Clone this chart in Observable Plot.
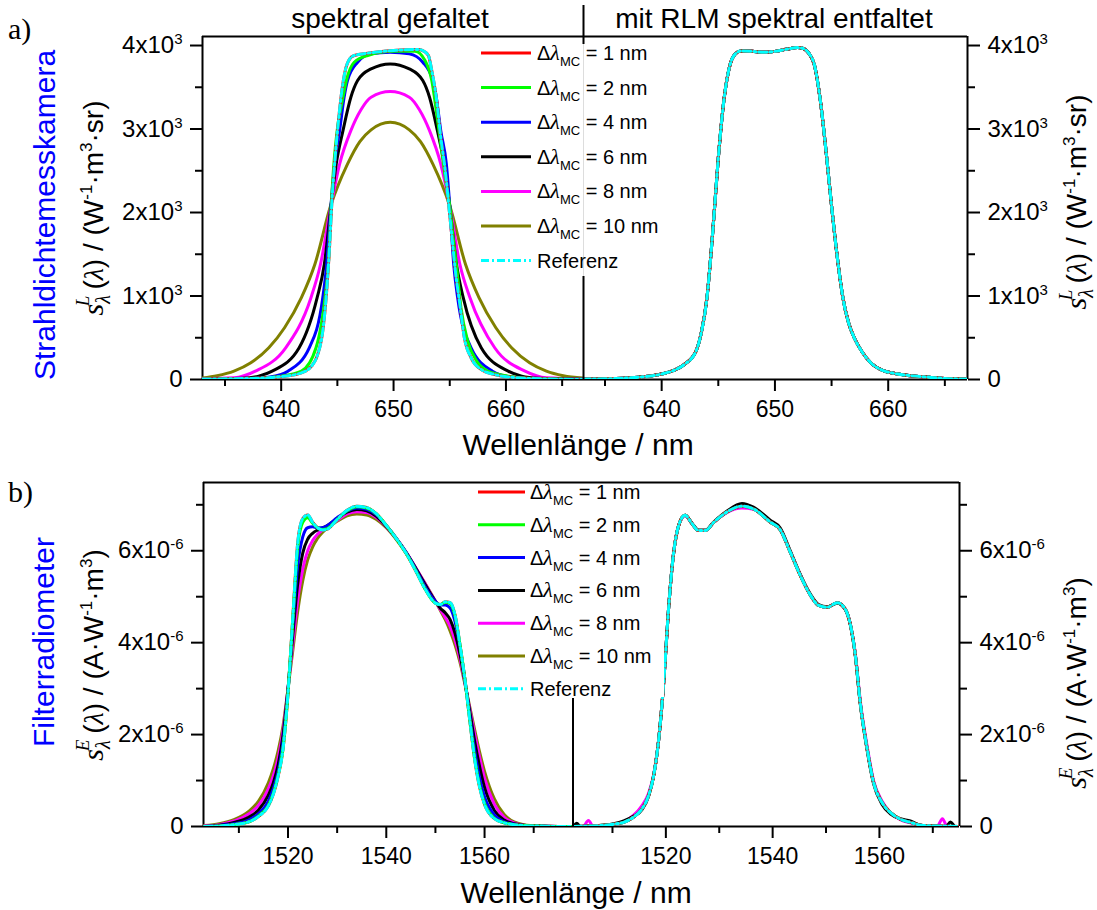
<!DOCTYPE html>
<html><head><meta charset="utf-8">
<script src="https://cdn.jsdelivr.net/npm/d3@7"></script>
<script src="https://cdn.jsdelivr.net/npm/@observablehq/plot@0.6"></script>
<style>
body{margin:0;background:#fff;}
#wrap{position:relative;width:1097px;height:910px;overflow:hidden;background:#fff;}
#wrap svg{position:absolute;}
</style></head><body><div id="wrap"></div>
<script>
// ---------------- data ----------------
const mcLabels = ["1 nm","2 nm","4 nm","6 nm","8 nm","10 nm"];
const refLabel = "Referenz";
const colors = ["#ff0000","#00ff00","#0000ff","#000000","#ff00ff","#808000"];
const refColor = "#00ffff";
const panelTitles = ["spektral gefaltet","mit RLM spektral entfaltet"];
const xTitle = "Wellenlänge / nm";
const yTitlesBlue = ["Strahldichtemesskamera","Filterradiometer"];

const aTicksX = [640,650,660], aMinorX = [635,645,655,665];
const bTicksX = [1520,1540,1560], bMinorX = [1510,1530,1550,1570];
const aTicksY = [0,1000,2000,3000,4000], aMinorY = [500,1500,2500,3500];
const bTicksY = [0,2e-6,4e-6,6e-6], bMinorY = [1e-6,3e-6,5e-6,7e-6];

// panel a, spectrally convolved  [wavelength nm, value]
const convA_ref = [[633,5],[635.8,10],[638.8,20],[640.3,40],[641.8,80],[642.7,160],[643.2,280],[643.7,580],[644.0,980],[644.3,1580],[644.5,2100],[644.8,2660],[645.1,3100],[645.4,3460],[645.7,3700],[646.1,3840],[646.5,3880],[647.7,3908],[650.0,3940],[652.2,3952],[652.6,3940],[653.1,3880],[653.4,3700],[653.8,3380],[654.2,2900],[654.6,2500],[654.9,2100],[655.2,1700],[655.5,1300],[655.9,900],[656.3,500],[656.9,260],[657.8,120],[659.0,60],[661.1,20],[664,5],[667,0]];
const convA_1 = [[633,5],[635.8,10],[638.8,20],[640.3,40],[641.8,80],[642.7,160],[643.2,280],[643.7,580],[644.0,980],[644.3,1580],[644.5,2100],[644.8,2660],[645.1,3100],[645.4,3460],[645.7,3700],[646.1,3840],[646.5,3880],[647.7,3908],[650.0,3940],[652.2,3952],[652.6,3940],[653.1,3880],[653.4,3700],[653.8,3380],[654.2,2900],[654.6,2500],[654.9,2100],[655.2,1700],[655.5,1300],[655.9,900],[656.3,500],[656.9,260],[657.8,120],[659.0,60],[661.1,20],[664,5],[667,0]];
const convA_2 = [[633,2],[637,8],[640,40],[641.8,100],[643.1,380],[643.9,980],[644.2,1380],[644.45,2080],[644.7,2600],[645.0,3000],[645.5,3380],[645.8,3580],[646.5,3800],[647.7,3880],[650.0,3930],[651.9,3930],[652.8,3820],[653.4,3580],[653.8,3220],[654.2,2820],[654.6,2420],[655.0,2080],[655.3,1700],[655.65,1300],[656.0,860],[656.6,460],[657.4,220],[658.4,100],[660.2,40],[662.6,12],[667,2]];
const convA_4 = [[633,2],[637,8],[639,30],[640.6,100],[642.5,380],[643.7,980],[644.05,1380],[644.43,2080],[644.75,2580],[645.2,2980],[645.6,3380],[645.9,3580],[646.8,3800],[648.0,3900],[649.7,3920],[651.4,3900],[652.6,3800],[653.5,3580],[653.8,3380],[654.2,2980],[654.7,2580],[655.0,2080],[655.35,1380],[655.7,980],[656.9,380],[658.8,100],[660.4,30],[662.4,8],[667,2]];
const convA_6 = [[633,3],[636.5,15],[638,40],[639.2,100],[641.6,380],[643.2,980],[643.84,1380],[644.43,2080],[644.9,2580],[645.5,2980],[646.2,3380],[646.8,3580],[648.0,3720],[649.7,3780],[651.4,3720],[652.6,3580],[653.2,3380],[653.9,2980],[654.5,2580],[655.0,2080],[655.6,1380],[656.2,980],[657.8,380],[660.2,100],[661.4,40],[662.9,15],[667,2]];
const convA_8 = [[633,8],[635.8,20],[637.7,100],[640.4,380],[642.65,980],[643.5,1380],[644.43,2080],[645.2,2580],[646.2,2980],[647.1,3230],[648.0,3380],[649.7,3448],[651.4,3380],[652.3,3230],[653.2,2980],[654.2,2580],[655.0,2080],[655.9,1380],[656.8,980],[659.0,380],[661.7,100],[663.6,20],[667,6]];
const convA_10 = [[633,18],[634.3,45],[635.8,100],[637.3,200],[638.9,380],[640.3,620],[641.8,980],[643.0,1380],[644.4,2080],[645.9,2580],[647.0,2850],[648.0,2990],[649.7,3080],[651.4,2990],[652.4,2850],[653.5,2580],[655.0,2080],[656.4,1380],[657.6,980],[659.1,620],[660.5,380],[662.1,200],[663.6,100],[665.1,45],[667,15]];
// panel a, deconvolved with RLM (all curves coincide)
const decA = [[633,4],[636,12],[638,28],[640,65],[641,105],[642,180],[643,330],[643.5,560],[644,980],[644.5,1750],[645,2650],[645.5,3350],[646,3750],[646.5,3900],[647,3935],[648,3930],[649,3918],[650,3930],[651,3955],[652,3975],[652.5,3965],[653,3905],[653.5,3760],[654,3350],[654.5,2750],[655,2080],[655.5,1470],[656,980],[656.5,680],[657,500],[657.7,330],[658.5,195],[659.5,110],[660.6,72],[662,45],[663.6,28],[665,12],[667,5]];

// panel b, convolved (values in 1e-6 A·W^-1·m^3)
const lamB = [1503,1506,1509,1512,1514,1516,1517,1518,1519,1520,1521,1522,1523,1524,1525,1526,1527,1528,1530,1532,1534,1536,1538,1540,1542,1544,1546,1548,1550,1551,1552,1553,1554,1555,1556,1557,1558,1559,1560,1562,1564,1566,1568,1571,1575,1578];
const convB_ref = [0,0.01,0.04,0.1,0.22,0.45,0.7,1.1,1.7,2.9,4.6,6.2,6.7,6.78,6.62,6.5,6.45,6.47,6.68,6.88,6.97,6.94,6.8,6.55,6.27,5.95,5.56,5.15,4.86,4.83,4.89,4.87,4.6,3.95,3.2,2.3,1.45,0.85,0.48,0.17,0.08,0.04,0.02,0.01,0,0];
const convB_1 = [0,0.01,0.04,0.1,0.22,0.45,0.7,1.1,1.7,2.9,4.6,6.2,6.7,6.78,6.62,6.5,6.45,6.47,6.68,6.88,6.97,6.94,6.8,6.55,6.27,5.95,5.56,5.15,4.86,4.83,4.89,4.87,4.6,3.95,3.2,2.3,1.45,0.85,0.48,0.17,0.08,0.04,0.02,0.01,0,0];
const convB_2 = [0,0.01,0.04,0.1,0.23,0.46,0.72,1.12,1.72,2.9,4.55,6.1,6.62,6.72,6.6,6.5,6.46,6.48,6.68,6.87,6.96,6.93,6.8,6.55,6.27,5.95,5.57,5.15,4.86,4.83,4.88,4.85,4.58,3.95,3.2,2.32,1.48,0.88,0.5,0.18,0.08,0.04,0.02,0.01,0,0];
const convB_4 = [0,0.02,0.06,0.14,0.28,0.55,0.82,1.2,1.85,2.95,4.4,5.7,6.3,6.5,6.52,6.5,6.5,6.55,6.72,6.86,6.93,6.9,6.78,6.55,6.28,5.97,5.6,5.2,4.9,4.82,4.82,4.75,4.45,3.9,3.2,2.4,1.65,1.05,0.65,0.25,0.1,0.05,0.02,0.01,0,0];
const convB_6 = [0,0.03,0.09,0.2,0.36,0.68,0.95,1.35,2.0,3.0,4.2,5.3,5.95,6.25,6.38,6.45,6.5,6.55,6.7,6.84,6.9,6.87,6.75,6.53,6.27,5.97,5.62,5.25,4.9,4.75,4.65,4.5,4.2,3.75,3.15,2.5,1.85,1.3,0.85,0.35,0.14,0.06,0.03,0.01,0,0];
const convB_8 = [0.01,0.04,0.12,0.27,0.46,0.82,1.1,1.5,2.1,3.0,4.0,4.95,5.6,6.0,6.22,6.36,6.45,6.52,6.66,6.8,6.85,6.83,6.72,6.52,6.27,5.97,5.63,5.27,4.9,4.72,4.55,4.35,4.05,3.65,3.12,2.55,2.0,1.5,1.05,0.48,0.2,0.08,0.03,0.01,0,0];
const convB_10 = [0.02,0.06,0.15,0.33,0.55,0.95,1.25,1.65,2.2,3.0,3.85,4.7,5.35,5.8,6.08,6.27,6.4,6.5,6.64,6.76,6.8,6.78,6.68,6.5,6.25,5.95,5.62,5.27,4.9,4.7,4.5,4.25,3.95,3.57,3.1,2.6,2.1,1.62,1.2,0.6,0.26,0.1,0.04,0.01,0,0];
// panel b, deconvolved
const decB = [[1502.7,0],[1505.8,0.01],[1510.2,0.05],[1512.1,0.09],[1513.9,0.2],[1515.5,0.38],[1516.75,0.67],[1517.7,1.1],[1518.6,1.83],[1519.6,3.14],[1520.5,4.73],[1521.4,5.9],[1522.4,6.55],[1523.6,6.77],[1524.9,6.59],[1526.1,6.44],[1527.4,6.44],[1528.9,6.61],[1531.4,6.84],[1534.25,6.97],[1536.4,6.91],[1539.6,6.62],[1541.4,6.46],[1543.3,5.97],[1545.2,5.46],[1547.1,5.03],[1548.6,4.81],[1550.2,4.77],[1552.1,4.87],[1553.6,4.73],[1554.6,4.37],[1555.5,3.72],[1556.4,2.7],[1557.7,1.69],[1558.9,0.96],[1560.5,0.52],[1562.1,0.3],[1563.9,0.16],[1565.8,0.09],[1567.7,0.03],[1570.8,0.01],[1575,0]];
const decB_6 = [[1502.7,0],[1503.3,0.07],[1504,0],[1506,0.01],[1510.2,0.06],[1512.1,0.12],[1513.9,0.22],[1515.5,0.36],[1516.75,0.65],[1517.7,1.1],[1518.6,1.83],[1519.6,3.14],[1520.5,4.73],[1521.4,5.9],[1522.4,6.55],[1523.6,6.77],[1524.9,6.6],[1526.1,6.45],[1527.4,6.45],[1528.9,6.62],[1531.4,6.86],[1534.25,7.03],[1536.4,6.95],[1539.6,6.66],[1541.4,6.5],[1543.3,6.0],[1545.2,5.48],[1547.1,5.05],[1548.6,4.83],[1550.2,4.78],[1552.1,4.86],[1553.6,4.72],[1554.6,4.36],[1555.5,3.7],[1556.4,2.68],[1557.7,1.66],[1558.9,0.93],[1560.5,0.48],[1562.1,0.27],[1563.9,0.17],[1565.8,0.12],[1567.7,0.03],[1570.8,0.01],[1572.5,0],[1573.3,0.1],[1574.2,0],[1575,0]];
const decB_8 = [[1502.7,0],[1504.5,0],[1505.5,0.13],[1506.4,0],[1510.2,0.05],[1512.1,0.1],[1513.9,0.24],[1515.5,0.45],[1516.75,0.72],[1517.7,1.12],[1518.6,1.83],[1519.6,3.14],[1520.5,4.73],[1521.4,5.9],[1522.4,6.55],[1523.6,6.76],[1524.9,6.59],[1526.1,6.44],[1527.4,6.44],[1528.9,6.61],[1531.4,6.83],[1534.25,6.93],[1536.4,6.9],[1539.6,6.63],[1541.4,6.47],[1543.3,5.98],[1545.2,5.47],[1547.1,5.03],[1548.6,4.81],[1550.2,4.77],[1552.1,4.87],[1553.6,4.73],[1554.6,4.38],[1555.5,3.75],[1556.4,2.75],[1557.7,1.75],[1558.9,1.0],[1560.5,0.55],[1562.1,0.3],[1563.9,0.15],[1565.8,0.08],[1567.7,0.03],[1570.8,0],[1571.8,0.17],[1572.7,0],[1575,0]];

// ---------------- drawing ----------------
const FONT = "'Liberation Sans', Arial, Helvetica, sans-serif";
const SERIF = "'Liberation Serif', 'Times New Roman', serif";
const wrap = document.getElementById("wrap");
const zip = (xs, ys) => xs.map((x, i) => [x, ys[i]]);
const REFDASH = "8,3,2,3";

function ser(pts, i) { return {pts, color: i < 0 ? refColor : colors[i], dash: i < 0 ? REFDASH : undefined}; }

function buildPlot(c) {
  const marks = [
    Plot.ruleY([c.yDom[1]], {stroke: "black", strokeWidth: 2}),
    Plot.ruleX([c.side === "left" ? c.xDom[0] : c.xDom[1]], {stroke: "black", strokeWidth: 2}),
    Plot.axisX(c.mX, {anchor: "bottom", tickSize: 7, tickFormat: () => "", strokeWidth: 2, label: null}),
    Plot.axisX(c.tX, {anchor: "bottom", tickSize: 12, tickPadding: 9, tickFormat: d => String(d), strokeWidth: 2, fontSize: 23, label: null}),
    Plot.axisY(c.mY, {anchor: c.side, tickSize: 7, tickFormat: () => "", strokeWidth: 2, label: null}),
    Plot.axisY(c.tY, {anchor: c.side, tickSize: 12, tickPadding: 8, tickFormat: c.fmtY, strokeWidth: 2, fontSize: 24, label: null}),
    Plot.ruleY([0], {stroke: "black", strokeWidth: 2})
  ];
  for (const s of c.series) {
    marks.push(Plot.line(s.pts, {x: d => d[0], y: d => d[1] * c.k, stroke: s.color, strokeWidth: 3,
      strokeDasharray: s.dash, curve: "monotone-x", clip: true}));
  }
  const svg = Plot.plot({
    width: c.width, height: c.height,
    marginLeft: c.mL, marginRight: c.mR, marginTop: c.mT, marginBottom: c.mB,
    x: {domain: c.xDom, label: null},
    y: {domain: c.yDom, label: null},
    style: {fontFamily: FONT, fontSize: "23px", background: "transparent", overflow: "visible", color: "black"},
    marks
  });
  d3.select(svg).selectAll('g[aria-label="y-axis tick label"] text').each(function () {
    const s = this.textContent; const i = s.indexOf("^");
    if (i < 0) return;
    const t = d3.select(this); t.text(null);
    t.append("tspan").text(s.slice(0, i));
    t.append("tspan").attr("dy", "-0.6em").attr("font-size", "15px").text(s.slice(i + 1));
  });
  svg.style.left = c.left + "px"; svg.style.top = c.top + "px";
  wrap.appendChild(svg);
}

const fmtA = d => d === 0 ? "0" : `${d / 1000}x10^3`;
const fmtB = d => d === 0 ? "0" : `${Math.round(d * 1e6)}x10^-6`;

const seriesAL = [ser(convA_10,5), ser(convA_8,4), ser(convA_6,3), ser(convA_4,2), ser(convA_2,1), ser(convA_1,0), ser(convA_ref,-1)];
const seriesAR = [ser(decA,5), ser(decA,4), ser(decA,3), ser(decA,2), ser(decA,1), ser(decA,0), ser(decA,-1)];
const seriesBL = [ser(zip(lamB,convB_10),5), ser(zip(lamB,convB_8),4), ser(zip(lamB,convB_6),3), ser(zip(lamB,convB_4),2), ser(zip(lamB,convB_1),0), ser(zip(lamB,convB_2),1), ser(zip(lamB,convB_ref),-1)];
const seriesBR = [ser(decB,5), ser(decB_8,4), ser(decB_6,3), ser(decB,2), ser(decB,1), ser(decB,0), ser(decB,-1)];

const A = {top: 0, height: 430, mT: 36, mB: 51, yDom: [0, 4108], tY: aTicksY, mY: aMinorY, fmtY: fmtA, k: 1, tX: aTicksX, mX: aMinorX};
const B = {top: 440, height: 430, mT: 42, mB: 44, yDom: [0, 7.485e-6], tY: bTicksY, mY: bMinorY, fmtY: fmtB, k: 1e-6, tX: bTicksX, mX: bMinorX};

buildPlot({...A, left: 0, width: 583, mL: 202, mR: 0, xDom: [633, 666.9], side: "left", series: seriesAL});
buildPlot({...A, left: 583, width: 514, mL: 0, mR: 130, xDom: [633.1, 667.0], side: "right", series: seriesAR});
buildPlot({...B, left: 0, width: 573, mL: 203, mR: 0, xDom: [1502.8, 1578.1], side: "left", series: seriesBL});
buildPlot({...B, left: 573, width: 524, mL: 0, mR: 138, xDom: [1502.7, 1575], side: "right", series: seriesBR});

// ---------------- overlay: titles, legends, dividers ----------------
function sTitle(x, y, sup, units) {
  let h = `<text transform="translate(${x},${y}) rotate(-90)" text-anchor="middle" font-size="28" font-family="${FONT}">`;
  h += `<tspan font-family="${SERIF}" font-style="italic" font-size="30">s</tspan>`;
  h += `<tspan font-family="${SERIF}" font-style="italic" font-size="20" dy="7">λ</tspan>`;
  h += `<tspan font-family="${SERIF}" font-style="italic" font-size="19" dx="-11" dy="-21">${sup}</tspan>`;
  h += `<tspan dx="6" dy="14">(</tspan><tspan font-family="${SERIF}" font-style="italic">λ</tspan><tspan>) / (</tspan>`;
  let raised = false;
  for (const [txt, isSup] of units) {
    if (isSup) { h += `<tspan font-size="17" dy="-11">${txt}</tspan>`; raised = true; }
    else { h += `<tspan${raised ? ' dy="11"' : ''}>${txt}</tspan>`; raised = false; }
  }
  return h + `</text>`;
}
const unitsA = [["W",0],["-1",1],["·m",0],["3",1],["·sr)",0]];
const unitsB = [["A·W",0],["-1",1],["·m",0],["3",1],[")",0]];

function legend(x1, x2, xt, y0, dy) {
  let h = "";
  const rows = mcLabels.map((l, i) => ({l, c: colors[i], dash: null})).concat([{l: null, c: refColor, dash: REFDASH}]);
  rows.forEach((r, i) => {
    const y = y0 + dy * i;
    h += `<line x1="${x1}" x2="${x2}" y1="${y}" y2="${y}" stroke="${r.c}" stroke-width="3"${r.dash ? ` stroke-dasharray="${r.dash}"` : ""}/>`;
    if (r.l) h += `<text x="${xt}" y="${y + 7}" font-size="20" font-family="${FONT}">Δ<tspan font-family="${SERIF}" font-style="italic" font-size="22">λ</tspan><tspan font-size="13" dy="6">MC</tspan><tspan dy="-6"> = ${r.l}</tspan></text>`;
    else h += `<text x="${xt}" y="${y + 7}" font-size="20" font-family="${FONT}">${refLabel}</text>`;
  });
  return h;
}

let ov = `<svg xmlns="http://www.w3.org/2000/svg" width="1097" height="910" style="left:0;top:0;pointer-events:none" font-family="${FONT}">`;
ov += `<line x1="583.5" x2="583.5" y1="5" y2="379" stroke="black" stroke-width="2"/>`;
ov += `<line x1="573" x2="573" y1="698" y2="826" stroke="black" stroke-width="2"/>`;
ov += `<rect x="474" y="44" width="200" height="232" fill="white"/>`;
ov += `<line x1="583.5" x2="583.5" y1="44" y2="276" stroke="#dddddd" stroke-width="1"/>`;
ov += `<rect x="474" y="484" width="190" height="213" fill="white"/>`;
ov += legend(481, 531, 537, 53, 34.6);
ov += legend(478, 525, 530, 492, 32.8);
ov += `<text x="8" y="39" font-family="${SERIF}" font-size="30">a)</text>`;
ov += `<text x="8" y="502" font-family="${SERIF}" font-size="30">b)</text>`;
ov += `<text x="390" y="28" text-anchor="middle" font-size="28">${panelTitles[0]}</text>`;
ov += `<text x="774" y="28" text-anchor="middle" font-size="28">${panelTitles[1]}</text>`;
ov += `<text x="578" y="455" text-anchor="middle" font-size="30">${xTitle}</text>`;
ov += `<text x="576" y="903" text-anchor="middle" font-size="30">${xTitle}</text>`;
ov += `<text transform="translate(55,215) rotate(-90)" text-anchor="middle" font-size="30" fill="#0000ff">${yTitlesBlue[0]}</text>`;
ov += `<text transform="translate(54,642) rotate(-90)" text-anchor="middle" font-size="30" fill="#0000ff">${yTitlesBlue[1]}</text>`;
ov += sTitle(103, 208, "L", unitsA);
ov += sTitle(1086, 202, "L", unitsA);
ov += sTitle(103, 655, "E", unitsB);
ov += sTitle(1086, 683, "E", unitsB);
ov += `</svg>`;
wrap.insertAdjacentHTML("beforeend", ov);
</script></body></html>
